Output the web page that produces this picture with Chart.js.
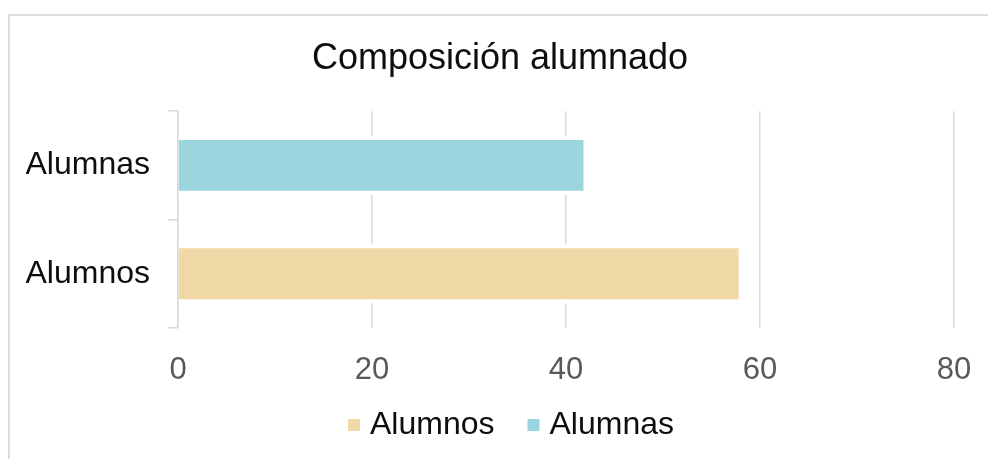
<!DOCTYPE html>
<html>
<head>
<meta charset="utf-8">
<script src="https://cdn.jsdelivr.net/npm/chart.js@4/dist/chart.umd.min.js"></script>
<style>
  html, body { margin: 0; padding: 0; background: #fff; overflow: hidden; width: 988px; height: 459px; }
  #frame { position: absolute; left: 8px; top: 14px; width: 2000px; height: 2000px;
           border-left: 2px solid #dedede; border-top: 2px solid #dedede; }
  #c { position: absolute; left: 0; top: 0; }
</style>
</head>
<body>
<div id="frame"></div>
<canvas id="c" width="988" height="459"></canvas>
<script>
const categories = ['Alumnas', 'Alumnos'];
const seriesNames = ['Alumnos', 'Alumnas'];
const alumnosValues = [null, 57.8];
const alumnasValues = [41.8, null];
const xTicks = [0, 20, 40, 60, 80];

const colors = { Alumnos: '#F0D9A6', Alumnas: '#9BD6DE' };
const FONT = '"Liberation Sans", Arial, sans-serif';

const haloPlugin = {
  id: 'halo',
  afterLayout(chart) {
    if (chart.legend) { chart.legend.left += 24; chart.legend.right += 24; }
    if (chart.titleBlock) { chart.titleBlock.left += 10; chart.titleBlock.right += 10; }
  },
  beforeDatasetsDraw(chart) {
    const ctx = chart.ctx;
    ctx.save();
    ctx.fillStyle = '#ffffff';
    chart.data.datasets.forEach((ds, i) => {
      const meta = chart.getDatasetMeta(i);
      meta.data.forEach((bar, j) => {
        if (ds.data[j] == null) return;
        const p = bar.getProps(['x', 'y', 'base', 'height'], true);
        const pad = 4;
        ctx.fillRect(p.base, p.y - p.height / 2 - pad, p.x - p.base + pad, p.height + 2 * pad);
      });
    });
    ctx.restore();
  }
};

new Chart(document.getElementById('c'), {
  type: 'bar',
  data: {
    labels: categories,
    datasets: [
      { label: seriesNames[0], data: alumnosValues, backgroundColor: colors.Alumnos },
      { label: seriesNames[1], data: alumnasValues, backgroundColor: colors.Alumnas }
    ]
  },
  plugins: [haloPlugin],
  options: {
    indexAxis: 'y',
    responsive: false,
    animation: false,
    devicePixelRatio: 1,
    categoryPercentage: 1,
    barPercentage: 0.47,
    layout: { padding: { left: 26, right: 34, top: 20, bottom: 8 } },
    plugins: {
      title: {
        display: true,
        text: 'Composición alumnado',
        color: '#0d0d0d',
        font: { family: FONT, size: 36, weight: 'normal', lineHeight: 1.2 },
        padding: { top: 17, bottom: 31 }
      },
      legend: {
        position: 'bottom',
        labels: {
          usePointStyle: true,
          pointStyle: 'rect',
          boxWidth: 0.01,
          boxHeight: 12,
          padding: -3,
          color: '#0d0d0d',
          font: { family: FONT, size: 32 },
          generateLabels(chart) {
            const items = Chart.defaults.plugins.legend.labels.generateLabels(chart);
            items.forEach((it, k) => { if (k < items.length - 1) it.text = it.text + '    \u2009'; });
            return items;
          }
        }
      },
      tooltip: { enabled: false }
    },
    scales: {
      x: {
        min: 0, max: 80,
        afterBuildTicks(scale) { scale.ticks = xTicks.map(v => ({ value: v })); },
        afterFit(scale) { scale.paddingLeft = 0; scale.paddingRight = 0; },
        grid: { color: '#d9d9d9', lineWidth: 1.5, drawTicks: false },
        border: { display: false },
        ticks: { color: '#595959', padding: 23.4, font: { family: FONT, size: 31, lineHeight: 1.2 } }
      },
      y: {
        stacked: true,
        z: 1,
        afterFit(scale) { scale.width = 152; },
        grid: { drawOnChartArea: false, drawTicks: true, tickLength: 10, color: '#d9d9d9', lineWidth: 1.5, offset: true },
        border: { display: true, color: '#d9d9d9', width: 1.5 },
        ticks: { color: '#0d0d0d', padding: 18, font: { family: FONT, size: 32 } }
      }
    }
  }
});
</script>
</body>
</html>
